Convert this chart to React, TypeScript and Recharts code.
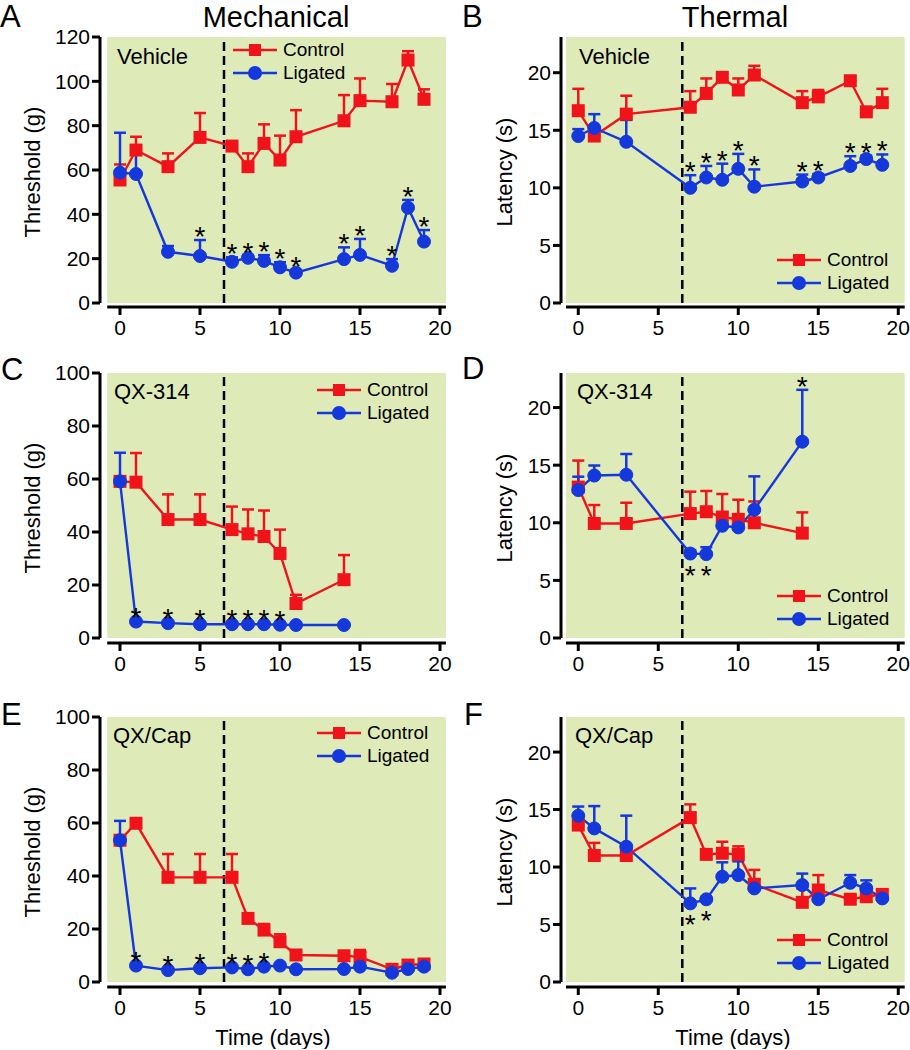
import React from "react";
import {
  ComposedChart,
  Line,
  XAxis,
  YAxis,
  ErrorBar,
  ReferenceArea,
  ReferenceLine,
  Legend,
  LabelList,
} from "recharts";

const RED = "#f0141a";
const BLUE = "#1438dc";
const GREEN = "#deeab8";
const FONT = '"Liberation Sans", Arial, sans-serif';

// ---- tick labels ----
const xTicks = [0, 5, 10, 15, 20];
const yTicksA = [0, 20, 40, 60, 80, 100, 120];
const yTicksMech = [0, 20, 40, 60, 80, 100];
const yTicksTherm = [0, 5, 10, 15, 20];

// ---- A: mechanical, vehicle ----
const daysA = [0, 1, 3, 5, 7, 8, 9, 10, 11, 14, 15, 17, 18, 19];
const ctrlA = [55.5, 69, 61.5, 74.7, 70.8, 61.5, 72, 64.5, 75, 82.2, 91.3, 90.8, 109.6, 91.9];
const ctrlErrA = [7, 6, 6, 11, 2, 6, 8.6, 11, 12, 11.6, 10, 8, 4, 4.5];
const ligA = [58.8, 58.2, 23.1, 21.2, 18.6, 20.4, 19, 16.1, 13.7, 19.8, 21.7, 16.8, 43, 27.7];
const ligErrA = [18, 12, 2.6, 7.2, 2, 1, 2.6, 2.3, 1, 5.3, 7.2, 3, 3.5, 5.2];
const starsA = [0, 0, 0, 1, 1, 1, 1, 1, 1, 1, 1, 1, 1, 1];

// ---- B: thermal, vehicle ----
const daysB = [0, 1, 3, 7, 8, 9, 10, 11, 14, 15, 17, 18, 19];
const ctrlB = [16.7, 14.5, 16.4, 17.0, 18.2, 19.6, 18.5, 19.8, 17.4, 17.9, 19.3, 16.6, 17.4];
const ctrlErrB = [1.9, 0.5, 1.6, 1.4, 1.3, 0.3, 1, 0.8, 1, 0.6, 0.4, 0.3, 1.2];
const ligB = [14.5, 15.2, 14.0, 10.0, 10.9, 10.7, 11.65, 10.1, 10.55, 10.9, 11.9, 12.5, 12.0];
const ligErrB = [0.6, 1.2, 1.9, 1.1, 1, 1.4, 1.3, 1.5, 0.6, 0.3, 0.85, 0.3, 0.9];
const starsB = [0, 0, 0, 1, 1, 1, 1, 1, 1, 1, 1, 1, 1];

// ---- C: mechanical, QX-314 ----
const daysC = [0, 1, 3, 5, 7, 8, 9, 10, 11, 14];
const ctrlC = [59.1, 58.8, 44.7, 44.7, 40.9, 39.3, 38.3, 31.9, 13.0, 22.0];
const ctrlErrC = [1, 11, 9.5, 9.5, 8.7, 9.2, 9.8, 9, 3.3, 9.3];
const ligC = [59.1, 6.2, 5.6, 5.2, 5.2, 5.2, 5.2, 5.0, 4.9, 4.9];
const ligErrC = [10.8, 0.3, 0.3, 0.3, 0.3, 0.3, 0.3, 0.3, 0.3, 0.3];
const starsC = [0, 1, 1, 1, 1, 1, 1, 1, 0, 0];

// ---- D: thermal, QX-314 (-1 = star below point) ----
const daysD = [0, 1, 3, 7, 8, 9, 10, 11, 14];
const ctrlD = [13.1, 9.94, 9.94, 10.8, 10.96, 10.5, 10.3, 10.0, 9.1];
const ctrlErrD = [2.3, 1.6, 1.8, 1.9, 1.8, 2, 1.7, 1.85, 1.8];
const ligD = [12.84, 14.1, 14.17, 7.33, 7.28, 9.74, 9.6, 11.13, 17.04];
const ligErrD = [1.16, 0.87, 1.8, 0.3, 0.6, 1.1, 0.5, 2.9, 4.5];
const starsD = [0, 0, 0, -1, -1, 0, 0, 0, 1];

// ---- E: mechanical, QX/Cap ----
const daysE = [0, 1, 3, 5, 7, 8, 9, 10, 11, 14, 15, 17, 18, 19];
const ctrlE = [53.5, 59.9, 39.5, 39.5, 39.5, 24.0, 19.6, 15.2, 10.2, 9.9, 9.5, 4.8, 6.4, 6.8];
const ctrlErrE = [0.5, 0.5, 8.8, 8.8, 8.8, 1.9, 2.3, 2.8, 0.5, 1.5, 2.6, 0.5, 0.9, 1.1];
const ligE = [53.5, 6.2, 4.5, 5.2, 5.5, 4.8, 5.8, 6.2, 4.8, 4.9, 5.8, 3.5, 4.9, 5.8];
const ligErrE = [7.3, 0.3, 0.3, 0.3, 0.3, 0.3, 0.3, 0.3, 0.3, 0.3, 0.3, 0.3, 0.3, 0.3];
const starsE = [0, 1, 1, 1, 1, 1, 1, 0, 0, 0, 0, 0, 0, 0];

// ---- F: thermal, QX/Cap ----
const daysF = [0, 1, 3, 7, 8, 9, 10, 11, 14, 15, 17, 18, 19];
const ctrlF = [13.65, 11.0, 11.0, 14.3, 11.1, 11.2, 11.1, 8.5, 6.93, 8.0, 7.2, 7.42, 7.62];
const ctrlErrF = [0.8, 1.1, 0.9, 1.15, 0.3, 1.0, 0.7, 1.25, 1.2, 1.3, 0.3, 0.5, 0.4];
const ligF = [14.46, 13.36, 11.77, 6.84, 7.19, 9.16, 9.3, 8.14, 8.43, 7.2, 8.63, 8.14, 7.27];
const ligErrF = [0.8, 1.94, 2.7, 1.3, 0.2, 1.25, 1.2, 0.8, 1.0, 0.3, 0.67, 0.7, 0.2];
const starsF = [0, 0, 0, -1, -1, 0, 0, 0, 0, 0, 0, 0, 0];

function makeRows(days: number[], ctrl: number[], ctrlErr: number[], lig: number[], ligErr: number[], stars: number[]) {
  return days.map((d, i) => ({
    day: d,
    ctrl: ctrl[i],
    ctrlE: [0, ctrlErr[i]],
    lig: lig[i],
    ligE: [0, ligErr[i]],
    starUp: stars[i] === 1 ? lig[i] + ligErr[i] : null,
    starDown: stars[i] === -1 ? lig[i] : null,
  }));
}

const panels = [
  { col: 0, plotTop: 37, gap: 4, ymax: 120, yTicks: yTicksA, ylabel: "Threshold (g)", xlabel: false,
    rows: makeRows(daysA, ctrlA, ctrlErrA, ligA, ligErrA, starsA), legend: [233, 38.5] },
  { col: 1, plotTop: 37, gap: 4, ymax: 23.1, yTicks: yTicksTherm, ylabel: "Latency (s)", xlabel: false,
    rows: makeRows(daysB, ctrlB, ctrlErrB, ligB, ligErrB, starsB), legend: [777, 248.5] },
  { col: 0, plotTop: 373, gap: 5, ymax: 100, yTicks: yTicksMech, ylabel: "Threshold (g)", xlabel: false,
    rows: makeRows(daysC, ctrlC, ctrlErrC, ligC, ligErrC, starsC), legend: [317, 378.5] },
  { col: 1, plotTop: 373, gap: 5, ymax: 23, yTicks: yTicksTherm, ylabel: "Latency (s)", xlabel: false,
    rows: makeRows(daysD, ctrlD, ctrlErrD, ligD, ligErrD, starsD), legend: [777, 584.5] },
  { col: 0, plotTop: 717, gap: 5, ymax: 100, yTicks: yTicksMech, ylabel: "Threshold (g)", xlabel: true,
    rows: makeRows(daysE, ctrlE, ctrlErrE, ligE, ligErrE, starsE), legend: [317, 721.5] },
  { col: 1, plotTop: 717, gap: 5, ymax: 23.05, yTicks: yTicksTherm, ylabel: "Latency (s)", xlabel: true,
    rows: makeRows(daysF, ctrlF, ctrlErrF, ligF, ligErrF, starsF), legend: [777, 928.5] },
];

// page-level texts: [text, x, baseline]
const letters = [["A", 0, 27], ["B", 462, 27], ["C", 1, 380], ["D", 462, 379], ["E", 1, 725], ["F", 464, 725]];
const innerLabels = [["Vehicle", 117, 64], ["Vehicle", 579, 64], ["QX-314", 114, 399], ["QX-314", 577, 399], ["QX/Cap", 113, 743], ["QX/Cap", 575, 743]];
const titles = [["Mechanical", 276, 27], ["Thermal", 735, 27]];

const PLOT_H = 270;
const MARGIN_TOP = 30;

const SquareDot = (p: any) => {
  if (p.cx == null || p.cy == null) return <g key={p.index} />;
  return <rect key={p.index} x={p.cx - 6.5} y={p.cy - 6.5} width={13} height={13} fill={RED} />;
};

const star = (below: boolean) => (p: any) => {
  if (p.value == null) return null;
  const vb = p.viewBox || {};
  const x = vb.x ?? p.x;
  const y = vb.y ?? p.y;
  if (x == null || y == null || isNaN(y)) return null;
  const cy = below ? y + 15 : y - 10;
  return (
    <text key={p.index} x={x} y={cy + 16} textAnchor="middle" fontSize={28} fill="#000">
      *
    </text>
  );
};

const LegendBox = (props: any) => {
  const items = (props.payload || []).filter((e: any) => e.value === "Control" || e.value === "Ligated");
  return (
    <div style={{ fontFamily: FONT }}>
      {items.map((e: any) => (
        <div key={e.value} style={{ display: "flex", alignItems: "center", height: 23 }}>
          <svg width={44} height={16}>
            <line x1={0} y1={8} x2={44} y2={8} stroke={e.color} strokeWidth={2.5} />
            {e.value === "Control" ? (
              <rect x={16} y={2} width={12} height={12} fill={e.color} />
            ) : (
              <circle cx={22} cy={8} r={7} fill={e.color} />
            )}
          </svg>
          <span style={{ marginLeft: 6, fontSize: 19, color: "#000" }}>{e.value}</span>
        </div>
      ))}
    </div>
  );
};

function Panel({ cfg }: any) {
  const left = cfg.col === 0 ? 0 : 461;
  const width = cfg.col === 0 ? 455 : 449;
  const right = cfg.col === 0 ? 9 : 5;
  const xDomain = cfg.col === 0 ? [-1.25, 20.375] : [-1.08, 20.42];
  const greenX = cfg.col === 0 ? [-0.8, 20.37] : [-0.77, 20.4];
  const ymin = (-cfg.gap * cfg.ymax) / (PLOT_H - cfg.gap);
  const xAxisH = cfg.xlabel ? 62 : 40;
  const top = cfg.plotTop - MARGIN_TOP;
  const height = MARGIN_TOP + PLOT_H + xAxisH;
  const yLabelX = cfg.col === 0 ? 32 : 43;
  const axisStyle = { stroke: "#000", strokeWidth: 3 };

  return (
    <div style={{ position: "absolute", left, top }}>
      <ComposedChart width={width} height={height} data={cfg.rows} style={{ overflow: "visible" }}
        margin={{ top: MARGIN_TOP, right, left: 0, bottom: 0 }}>
        <ReferenceArea x1={greenX[0]} x2={greenX[1]} y1={0} y2={cfg.ymax} fill={GREEN} fillOpacity={1}
          stroke="none" ifOverflow="visible" />
        <XAxis type="number" dataKey="day" domain={xDomain} allowDataOverflow ticks={xTicks} interval={0}
          axisLine={false} tickSize={8} tickMargin={5} tickLine={axisStyle}
          tick={{ fontSize: 21, fill: "#000" }} height={xAxisH}
          label={cfg.xlabel ? {
            content: ({ viewBox }: any) => (
              <text x={viewBox.x + viewBox.width / 2} y={viewBox.y + 58} textAnchor="middle" fontSize={22} fill="#000">
                Time (days)
              </text>
            ),
          } : undefined} />
        <YAxis type="number" domain={[ymin, cfg.ymax]} allowDataOverflow ticks={cfg.yTicks} interval={0}
          width={100} axisLine={false} tickSize={8} tickLine={axisStyle}
          tick={{ fontSize: 21, fill: "#000" }}
          label={{
            content: ({ viewBox }: any) => (
              <text transform={`translate(${yLabelX},${viewBox.y + viewBox.height / 2}) rotate(-90)`}
                textAnchor="middle" dominantBaseline="central" fontSize={22} fill="#000">
                {cfg.ylabel}
              </text>
            ),
          }} />
        <ReferenceLine segment={[{ x: xDomain[0], y: 0 }, { x: xDomain[0], y: cfg.ymax }]}
          stroke="#000" strokeWidth={3} ifOverflow="visible" />
        <ReferenceLine segment={[{ x: greenX[0], y: ymin }, { x: greenX[1], y: ymin }]}
          stroke="#000" strokeWidth={3} ifOverflow="visible" />
        <ReferenceLine segment={[{ x: 6.5, y: 0 }, { x: 6.5, y: cfg.ymax }]} stroke="#000" strokeWidth={2.5}
          strokeDasharray="9 5" ifOverflow="visible" />
        <Legend layout="vertical" align="center" verticalAlign="middle" content={LegendBox}
          wrapperStyle={{ left: cfg.legend[0] - left, top: cfg.legend[1] - top, width: "auto", height: "auto" }} />
        <Line dataKey="ctrl" name="Control" stroke={RED} strokeWidth={2.4} dot={SquareDot} activeDot={false}
          isAnimationActive={false}>
          <ErrorBar dataKey="ctrlE" direction="y" width={6} stroke={RED} strokeWidth={2.5} />
        </Line>
        <Line dataKey="lig" name="Ligated" stroke={BLUE} strokeWidth={2.4}
          dot={{ r: 6.5, fill: BLUE, stroke: BLUE, strokeWidth: 1 }} activeDot={false} isAnimationActive={false}>
          <ErrorBar dataKey="ligE" direction="y" width={6} stroke={BLUE} strokeWidth={2.5} />
        </Line>
        <Line dataKey="starUp" stroke="none" dot={false} activeDot={false} legendType="none" isAnimationActive={false}>
          <LabelList dataKey="starUp" content={star(false)} />
        </Line>
        <Line dataKey="starDown" stroke="none" dot={false} activeDot={false} legendType="none" isAnimationActive={false}>
          <LabelList dataKey="starDown" content={star(true)} />
        </Line>
      </ComposedChart>
    </div>
  );
}

export default function App() {
  return (
    <div style={{ position: "relative", width: 910, height: 1050, background: "#fff", fontFamily: FONT }}>
      <style>{"body{margin:0}"}</style>
      {panels.map((p, i) => (
        <Panel key={i} cfg={p} />
      ))}
      <svg width={910} height={1050} style={{ position: "absolute", left: 0, top: 0, pointerEvents: "none" }}>
        {titles.map(([t, x, y]) => (
          <text key={t as string} x={x as number} y={y as number} textAnchor="middle" fontSize={29} fill="#000">{t}</text>
        ))}
        {letters.map(([t, x, y]) => (
          <text key={t as string} x={x as number} y={y as number} fontSize={31} fill="#000">{t}</text>
        ))}
        {innerLabels.map(([t, x, y], i) => (
          <text key={i} x={x as number} y={y as number} fontSize={22} fill="#000">{t}</text>
        ))}
      </svg>
    </div>
  );
}
